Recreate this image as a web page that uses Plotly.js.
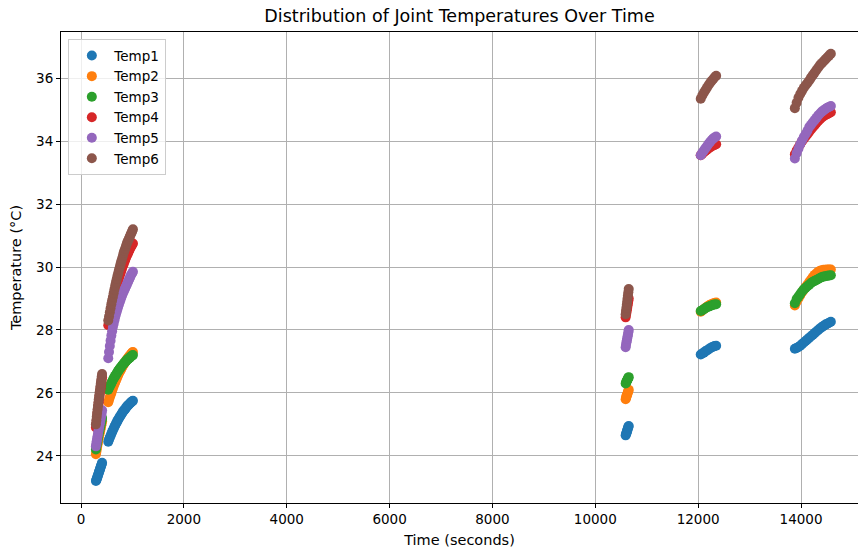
<!DOCTYPE html>
<html>
<head>
<meta charset="utf-8">
<script src="https://cdn.plot.ly/plotly-3.0.1.min.js"></script>
<style>
  html, body { margin: 0; padding: 0; background: #fff; }
  #chart { width: 858px; height: 554px; }
</style>
</head>
<body>
<div id="chart"></div>
<script>
// Sample times (seconds) for the five recording windows
const time = [
  290, 298, 306, 314, 322, 330, 338, 346, 354, 362, 370, 378, 386, 394, 402, 410,
  530, 545, 560, 575, 590, 605, 620, 635, 650, 665, 680, 695, 710, 725, 740, 755, 770,
  785, 800, 815, 830, 845, 860, 875, 890, 905, 920, 935, 950, 965, 980, 995, 1010,
  10590, 10597.5, 10605, 10612.5, 10620, 10627.5, 10635, 10642.5, 10650,
  12050, 12080, 12110, 12140, 12170, 12200, 12230, 12260, 12290, 12320, 12350,
  13880, 13915, 13950, 13985, 14020, 14055, 14090, 14125, 14160, 14195, 14230,
  14265, 14300, 14335, 14370, 14405, 14440, 14475, 14510, 14545, 14580
];

// Joint temperatures (°C) at each sample time
const temp1 = [
  23.20, 23.23, 23.26, 23.30, 23.34, 23.38, 23.42, 23.46, 23.50, 23.54, 23.58, 23.62, 23.66, 23.70, 23.74, 23.78,
  24.45, 24.52, 24.58, 24.64, 24.70, 24.76, 24.81, 24.87, 24.92, 24.97, 25.02, 25.07, 25.11, 25.16, 25.20, 25.24, 25.28,
  25.32, 25.36, 25.40, 25.43, 25.46, 25.49, 25.53, 25.56, 25.59, 25.61, 25.64, 25.66, 25.69, 25.71, 25.73, 25.75,
  24.65, 24.69, 24.72, 24.76, 24.80, 24.84, 24.88, 24.92, 24.95,
  27.22, 27.25, 27.28, 27.32, 27.35, 27.38, 27.42, 27.44, 27.47, 27.49, 27.50,
  27.40, 27.43, 27.46, 27.50, 27.55, 27.60, 27.65, 27.70, 27.75, 27.80, 27.85,
  27.90, 27.95, 28.00, 28.05, 28.09, 28.13, 28.17, 28.20, 28.23, 28.26
];
const temp2 = [
  24.05, 24.13, 24.21, 24.29, 24.37, 24.44, 24.51, 24.58, 24.65, 24.72, 24.78, 24.84, 24.90, 24.96, 25.03, 25.10,
  25.70, 25.78, 25.86, 25.93, 26.00, 26.08, 26.15, 26.22, 26.28, 26.34, 26.40, 26.46, 26.52, 26.58, 26.63, 26.68, 26.72,
  26.77, 26.82, 26.86, 26.90, 26.94, 26.98, 27.02, 27.06, 27.09, 27.12, 27.16, 27.19, 27.22, 27.25, 27.28, 27.30,
  25.80, 25.84, 25.88, 25.92, 25.95, 25.99, 26.03, 26.07, 26.10,
  28.58, 28.62, 28.66, 28.70, 28.74, 28.77, 28.80, 28.82, 28.84, 28.86, 28.87,
  28.78, 28.90, 29.00, 29.10, 29.20, 29.28, 29.36, 29.44, 29.52, 29.60, 29.68,
  29.75, 29.80, 29.85, 29.88, 29.90, 29.91, 29.91, 29.92, 29.92, 29.92
];
const temp3 = [
  24.20, 24.28, 24.35, 24.43, 24.50, 24.57, 24.64, 24.71, 24.78, 24.84, 24.90, 24.96, 25.02, 25.08, 25.14, 25.20,
  26.10, 26.16, 26.21, 26.26, 26.31, 26.36, 26.41, 26.46, 26.50, 26.54, 26.58, 26.62, 26.66, 26.70, 26.74, 26.77, 26.80,
  26.84, 26.87, 26.90, 26.93, 26.96, 26.98, 27.01, 27.04, 27.06, 27.08, 27.10, 27.12, 27.15, 27.17, 27.19, 27.20,
  26.30, 26.32, 26.35, 26.38, 26.40, 26.43, 26.45, 26.48, 26.50,
  28.60, 28.63, 28.66, 28.69, 28.72, 28.74, 28.76, 28.78, 28.80, 28.81, 28.82,
  28.85, 28.98, 29.06, 29.14, 29.22, 29.29, 29.34, 29.39, 29.44, 29.49, 29.53,
  29.56, 29.59, 29.62, 29.65, 29.68, 29.70, 29.71, 29.72, 29.73, 29.74
];
const temp4 = [
  24.90, 25.02, 25.14, 25.26, 25.37, 25.48, 25.59, 25.70, 25.81, 25.91, 26.01, 26.11, 26.21, 26.31, 26.41, 26.50,
  28.15, 28.28, 28.41, 28.53, 28.64, 28.76, 28.88, 28.99, 29.09, 29.19, 29.29, 29.39, 29.48, 29.57, 29.66, 29.74, 29.81,
  29.89, 29.97, 30.04, 30.10, 30.17, 30.23, 30.30, 30.36, 30.41, 30.46, 30.52, 30.57, 30.62, 30.67, 30.71, 30.75,
  28.40, 28.48, 28.55, 28.63, 28.70, 28.78, 28.85, 28.93, 29.00,
  33.55, 33.60, 33.65, 33.69, 33.73, 33.77, 33.80, 33.83, 33.86, 33.88, 33.90,
  33.58, 33.70, 33.80, 33.90, 34.00, 34.08, 34.15, 34.22, 34.30, 34.37, 34.44,
  34.51, 34.58, 34.64, 34.70, 34.75, 34.79, 34.83, 34.86, 34.89, 34.92
];
const temp5 = [
  24.30, 24.38, 24.46, 24.54, 24.62, 24.70, 24.78, 24.86, 24.93, 25.00, 25.07, 25.14, 25.21, 25.28, 25.36, 25.45,
  27.10, 27.30, 27.49, 27.66, 27.82, 27.96, 28.09, 28.20, 28.31, 28.41, 28.50, 28.59, 28.67, 28.75, 28.83, 28.90, 28.97,
  29.04, 29.11, 29.17, 29.22, 29.28, 29.33, 29.39, 29.44, 29.50, 29.55, 29.61, 29.66, 29.72, 29.77, 29.81, 29.85,
  27.45, 27.52, 27.60, 27.66, 27.72, 27.79, 27.85, 27.93, 28.00,
  33.55, 33.63, 33.70, 33.77, 33.84, 33.91, 33.97, 34.03, 34.08, 34.12, 34.15,
  33.45, 33.62, 33.76, 33.90, 34.02, 34.13, 34.23, 34.33, 34.45, 34.52, 34.60,
  34.67, 34.74, 34.82, 34.88, 34.94, 34.98, 35.02, 35.06, 35.09, 35.12
];
const temp6 = [
  25.00, 25.12, 25.24, 25.36, 25.47, 25.58, 25.69, 25.80, 25.91, 26.01, 26.11, 26.21, 26.31, 26.41, 26.51, 26.60,
  28.30, 28.43, 28.56, 28.69, 28.82, 28.94, 29.05, 29.17, 29.29, 29.41, 29.52, 29.62, 29.72, 29.82, 29.92, 30.01, 30.10,
  30.19, 30.27, 30.36, 30.45, 30.52, 30.59, 30.67, 30.74, 30.80, 30.85, 30.91, 30.97, 31.03, 31.08, 31.14, 31.20,
  28.50, 28.60, 28.70, 28.80, 28.90, 29.00, 29.10, 29.20, 29.30,
  35.35, 35.45, 35.54, 35.62, 35.70, 35.78, 35.85, 35.91, 35.97, 36.03, 36.08,
  35.05, 35.22, 35.38, 35.50, 35.60, 35.70, 35.78, 35.85, 35.93, 36.02, 36.10,
  36.18, 36.26, 36.34, 36.42, 36.48, 36.54, 36.60, 36.66, 36.72, 36.78
];

const seriesNames = ['Temp1', 'Temp2', 'Temp3', 'Temp4', 'Temp5', 'Temp6'];
const seriesValues = [temp1, temp2, temp3, temp4, temp5, temp6];
const seriesColors = ['#1f77b4', '#ff7f0e', '#2ca02c', '#d62728', '#9467bd', '#8c564b'];

const xTicks = [0, 2000, 4000, 6000, 8000, 10000, 12000, 14000];
const yTicks = [24, 26, 28, 30, 32, 34, 36];

const FONT = 'DejaVu Sans, sans-serif';

const traces = seriesNames.map((name, i) => ({
  type: 'scatter',
  mode: 'markers',
  name: name,
  x: time,
  y: seriesValues[i],
  legendgroup: name,
  marker: { color: seriesColors[i], size: 10, line: { width: 0 } }
}));

const axisCommon = {
  showline: true,
  linecolor: '#000',
  linewidth: 1,
  mirror: true,
  ticks: 'outside',
  ticklen: 4,
  tickwidth: 1,
  tickcolor: '#000',
  showgrid: true,
  gridcolor: '#b0b0b0',
  gridwidth: 1,
  zeroline: false,
  tickfont: { family: FONT, size: 13.5, color: '#000' },
  automargin: false
};

const layout = {
  width: 858,
  height: 554,
  paper_bgcolor: '#fff',
  plot_bgcolor: '#fff',
  margin: { l: 61, r: 0, t: 32, b: 51, pad: 0 },
  font: { family: FONT, size: 13, color: '#000' },
  title: {
    text: 'Distribution of Joint Temperatures Over Time',
    font: { family: FONT, size: 17.5, color: '#000' },
    xref: 'paper', x: 0.5, xanchor: 'center',
    yref: 'container', y: 1 - 16 / 554, yanchor: 'middle'
  },
  xaxis: Object.assign({}, axisCommon, {
    range: [-389, 15108],
    tickmode: 'array',
    tickvals: xTicks,
    ticktext: xTicks.map(String),
    title: { text: 'Time (seconds)', font: { family: FONT, size: 14.5, color: '#000' }, standoff: 8 }
  }),
  yaxis: Object.assign({}, axisCommon, {
    range: [22.5, 37.47],
    tickmode: 'array',
    tickvals: yTicks,
    ticktext: yTicks.map(String),
    title: { text: 'Temperature (°C)', font: { family: FONT, size: 14.5, color: '#000' }, standoff: 11 }
  }),
  showlegend: true,
  legend: {
    x: 0.0092, y: 0.9845,
    xanchor: 'left', yanchor: 'top',
    bgcolor: 'rgba(255,255,255,0.8)',
    bordercolor: '#cccccc',
    borderwidth: 1,
    font: { family: FONT, size: 13.5, color: '#000' },
    traceorder: 'grouped',
    tracegroupgap: 0,
    itemwidth: 35
  }
};

Plotly.newPlot('chart', traces, layout, { displayModeBar: false, staticPlot: true });
</script>
</body>
</html>
